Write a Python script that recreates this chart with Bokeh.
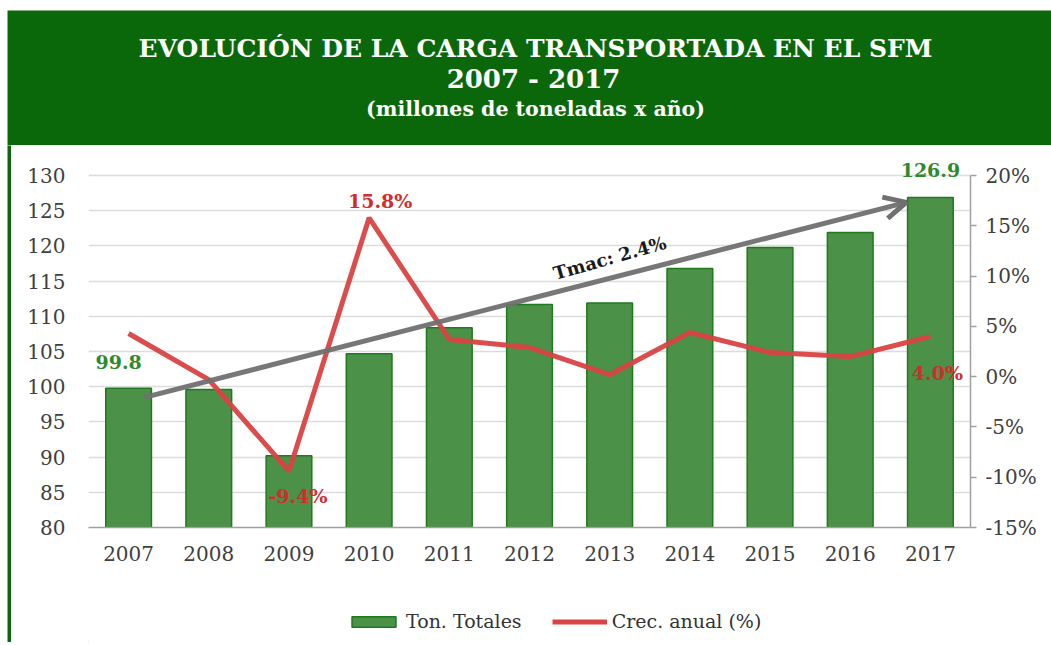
import math
from bokeh.plotting import figure
from bokeh.layouts import column, row
from bokeh.models import (ColumnDataSource, Range1d, FactorRange, LinearAxis, FixedTicker,
                          PrintfTickFormatter, Arrow, OpenHead, Legend, LegendItem, Spacer)
from bokeh.core.properties import value
from bokeh.embed import file_html
from bokeh.resources import INLINE

# ---- data ----
years = ["2007", "2008", "2009", "2010", "2011", "2012", "2013", "2014", "2015", "2016", "2017"]
tons = [99.8, 99.6, 90.2, 104.7, 108.4, 111.7, 111.9, 116.8, 119.8, 121.9, 126.9]
growth = [4.3, -0.3, -9.4, 15.8, 3.7, 2.9, 0.2, 4.4, 2.4, 2.0, 4.0]
left_ticks = [80, 85, 90, 95, 100, 105, 110, 115, 120, 125, 130]
right_ticks = [-15, -10, -5, 0, 5, 10, 15, 20]
title_lines = ["EVOLUCIÓN DE LA CARGA TRANSPORTADA EN EL SFM", "2007 - 2017", "(millones de toneladas x año)"]
trend_label = "Tmac: 2.4%"
legend_labels = ["Ton. Totales", "Crec. anual (%)"]

SERIF = "DejaVu Serif"
HEADER_GREEN = "#0a680a"
BAR_FILL = "#4b9148"
BAR_LINE = "#1f7a1f"
RED = "#d94343"
LABEL_GREEN = "#2f8a2f"
LABEL_RED = "#d42b2b"
TICK_COLOR = "#404040"

# ---- header ----
W = 1044
HH = 135
header = figure(width=W, height=HH, x_range=Range1d(0, W), y_range=Range1d(HH, 0),
                x_axis_location=None, y_axis_location=None, toolbar_location=None,
                output_backend="svg", min_border=0, outline_line_color=None,
                background_fill_color=HEADER_GREEN, border_fill_color=HEADER_GREEN)
header.grid.visible = False
hsrc = ColumnDataSource(dict(x=[528, 526, 528], y=[38, 68, 98], t=title_lines,
                             s=["25px", "26px", "20.5px"]))
header.text(x="x", y="y", text="t", source=hsrc, text_align="center", text_baseline="middle",
            text_color="white", text_font=value(SERIF), text_font_style="bold", text_font_size="s")

# ---- main chart ----
MAIN_H = 427
LEG_H = 70
Y0, Y1 = 80, 133
PCT0 = -15
PCT1 = PCT0 + (Y1 - Y0) * (35 / 50)

p = figure(width=1040, height=MAIN_H, x_range=FactorRange(*years), y_range=Range1d(Y0, Y1),
           toolbar_location=None, output_backend="svg",
           min_border_left=77, min_border_right=81, min_border_top=9, min_border_bottom=45,
           outline_line_color=None, background_fill_color="white", border_fill_color="white")
p.extra_y_ranges = {"pct": Range1d(PCT0, PCT1)}

src = ColumnDataSource(dict(x=years, tons=tons, growth=growth))
bars = p.vbar(x="x", top="tons", bottom=80, width=0.57, source=src,
              fill_color=BAR_FILL, line_color=BAR_LINE, line_width=1.5)
line = p.line(x="x", y="growth", source=src, y_range_name="pct",
              line_color=RED, line_width=5, line_alpha=0.95)

p.xgrid.visible = False
p.ygrid.ticker = FixedTicker(ticks=left_ticks)
p.ygrid.grid_line_color = "#dcdcdc"
p.ygrid.grid_line_width = 1.5

p.yaxis.ticker = FixedTicker(ticks=left_ticks)
p.yaxis.bounds = (80, 130)
p.yaxis.axis_line_color = None
p.yaxis.major_tick_line_color = None
p.yaxis.minor_tick_line_color = None
p.yaxis.major_label_standoff = 17
p.yaxis.major_label_text_font = SERIF
p.yaxis.major_label_text_font_size = "20px"
p.yaxis.major_label_text_color = TICK_COLOR

p.xaxis.axis_line_color = "#a0a0a0"
p.xaxis.axis_line_width = 1.5
p.xaxis.major_tick_line_color = None
p.xaxis.minor_tick_line_color = None
p.xaxis.major_label_standoff = 12
p.xaxis.major_label_text_font = SERIF
p.xaxis.major_label_text_font_size = "20px"
p.xaxis.major_label_text_color = TICK_COLOR

raxis = LinearAxis(y_range_name="pct", ticker=FixedTicker(ticks=right_ticks),
                   formatter=PrintfTickFormatter(format="%d%%"), bounds=(-15, 20))
raxis.axis_line_color = "#a0a0a0"
raxis.axis_line_width = 1.5
raxis.major_tick_line_color = "#a0a0a0"
raxis.major_tick_line_width = 1.5
raxis.major_tick_in = 0
raxis.major_tick_out = 6
raxis.minor_tick_line_color = None
raxis.major_label_standoff = 9
raxis.major_label_text_font = SERIF
raxis.major_label_text_font_size = "20px"
raxis.major_label_text_color = TICK_COLOR
p.add_layout(raxis, "right")

# trend arrow (from first to last bar, slightly below tops)
x0, x1 = 0.5 + 0.2, len(years) - 0.5 - 0.3
y0, y1 = tons[0] - 1.3, tons[-1] - 0.7
p.add_layout(Arrow(x_start=x0, y_start=y0, x_end=x1, y_end=y1, line_color="#707070",
                   line_width=5, line_alpha=0.95,
                   end=OpenHead(size=22, line_color="#707070", line_width=5)))
ang = math.atan2((y1 - y0) * 7.04, (x1 - x0) * 80.2) + math.radians(1.5)
tsrc = ColumnDataSource(dict(x=[6.5], y=[118.3], t=[trend_label]))
p.text(x="x", y="y", text="t", source=tsrc, angle=ang, text_align="center",
       text_baseline="middle", text_font=value(SERIF), text_font_size="18px",
       text_font_style="bold", text_color="#1a1a1a")

# value labels (text glyphs; y_offset positive = down)
gl = ColumnDataSource(dict(x=[years[0], years[-1]], y=[tons[0], tons[-1]],
                           t=[f"{tons[0]:.1f}", f"{tons[-1]:.1f}"],
                           dx=[-10, 0], dy=[-26, -27]))
p.text(x="x", y="y", text="t", source=gl, x_offset="dx", y_offset="dy",
       text_align="center", text_baseline="middle", text_font=value(SERIF),
       text_font_size="19px", text_font_style="bold", text_color=LABEL_GREEN)

ri = [3, 2, 10]
rl = ColumnDataSource(dict(x=[years[i] for i in ri], y=[growth[i] for i in ri],
                           t=[f"{growth[i]:.1f}%" for i in ri],
                           dx=[11, 9, 7], dy=[-17, 25, 37]))
p.text(x="x", y="y", text="t", source=rl, x_offset="dx", y_offset="dy", y_range_name="pct",
       text_align="center", text_baseline="middle", text_font=value(SERIF),
       text_font_size="19px", text_font_style="bold", text_color=LABEL_RED)

# ---- legend strip ----
leg = figure(width=1040, height=LEG_H, x_range=Range1d(0, 1), y_range=Range1d(0, 1),
             x_axis_location=None, y_axis_location=None, toolbar_location=None,
             output_backend="svg", min_border=0, outline_line_color=None,
             background_fill_color="white", border_fill_color="white")
leg.grid.visible = False
offscreen = ColumnDataSource(dict(x=[-5, -4], y=[-5, -4]))
lb = leg.vbar(x="x", top="y", bottom=-6, width=0.1, source=offscreen, fill_color=BAR_FILL,
              line_color=BAR_LINE, line_width=1.5)
ll = leg.line(x="x", y="y", source=offscreen, line_color=RED, line_width=5)
legend = Legend(items=[LegendItem(label=legend_labels[0], renderers=[lb]),
                       LegendItem(label=legend_labels[1], renderers=[ll])],
                location=(258, 10), orientation="horizontal",
                glyph_width=55, glyph_height=13, label_standoff=5, spacing=30,
                padding=0, margin=0, border_line_color=None, background_fill_alpha=0,
                label_text_font=SERIF, label_text_font_size="19px", label_text_color="#333333")
leg.add_layout(legend, "center")

# ---- left green border ----
strip = figure(width=4, height=MAIN_H + LEG_H, x_axis_location=None, y_axis_location=None,
               toolbar_location=None, output_backend="svg", min_border=0,
               outline_line_color=None, background_fill_color=HEADER_GREEN,
               border_fill_color=HEADER_GREEN)
strip.grid.visible = False

layout = column(Spacer(height=10),
                row(Spacer(width=7),
                    column(header,
                           row(strip, column(p, leg, spacing=0), spacing=0),
                           spacing=0),
                    spacing=0),
                spacing=0)
open("out.html", "w").write(file_html(layout, INLINE))
